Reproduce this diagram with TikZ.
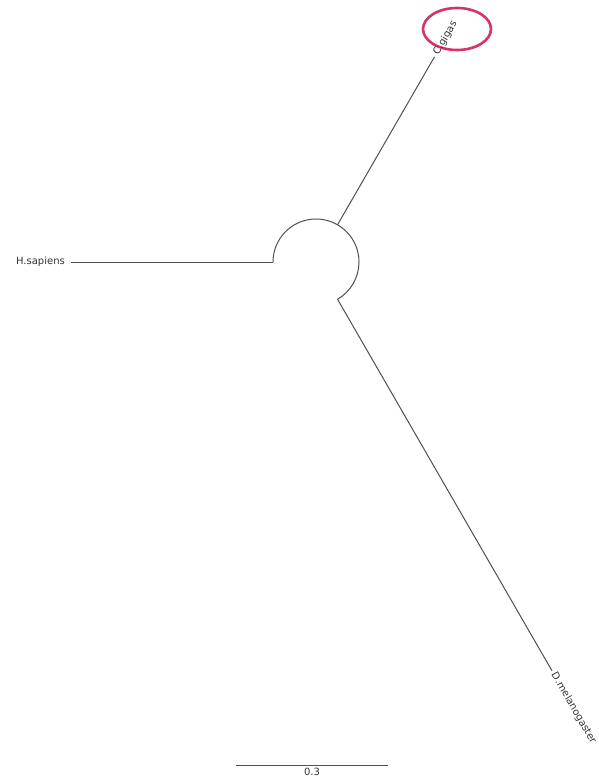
\documentclass[tikz,border=0pt]{standalone}
\usepackage{fontspec}
\setmainfont{DejaVu Sans}
\usetikzlibrary{calc}
\definecolor{branchgray}{HTML}{505050}
\definecolor{labelgray}{HTML}{333333}
\definecolor{markpink}{HTML}{D63368}
\tikzset{
  branch/.style={draw=branchgray,line width=1pt},
  leaflabel/.style={inner sep=3pt,font=\fontsize{10}{12}\selectfont,text=labelgray},
}
\begin{document}
\begin{tikzpicture}[x=1pt,y=1pt,yscale=-1,xscale=1]
\useasboundingbox (0,0) rectangle (599,784);

%Coordinates
\coordinate (ctr) at (316,262);
\coordinate (hsIn) at (273,262);
\coordinate (hsOut) at (71,262);
\coordinate (cgIn) at (337.5,224.8);
\coordinate (cgOut) at (434.5,56.8);
\coordinate (dmIn) at (337.5,299.2);
\coordinate (dmOut) at (552,670.8);

%Ring round C.gigas
\draw [markpink,line width=2.6pt]  (457,29) ellipse [x radius=34,y radius=21] ;

%Arc round the root
\draw [branch]  (hsIn) arc [start angle=180,end angle=420,radius=43] ;
%Straight Lines
\draw [branch]  (hsIn) -- (hsOut) ;
\draw [branch]  (cgIn) -- (cgOut) ;
\draw [branch]  (dmIn) -- (dmOut) ;

% Text Node
\node [leaflabel,anchor=east,inner xsep=6pt] (hs) at (hsOut) {H.sapiens};
% Text Node
\node [leaflabel,anchor=west,rotate=60] (cg) at (cgOut) {C.gigas};
% Text Node
\node [leaflabel,anchor=west,rotate=-60] (dm) at (dmOut) {D.melanogaster};

%Scale bar
\coordinate (sbL) at (236,765);
\coordinate (sbR) at (388,765);
\draw [branch]  (sbL) -- (sbR) ;
\node [leaflabel,anchor=north] (sb) at ($(sbL)!0.5!(sbR)$) {0.3};
\end{tikzpicture}
\end{document}
